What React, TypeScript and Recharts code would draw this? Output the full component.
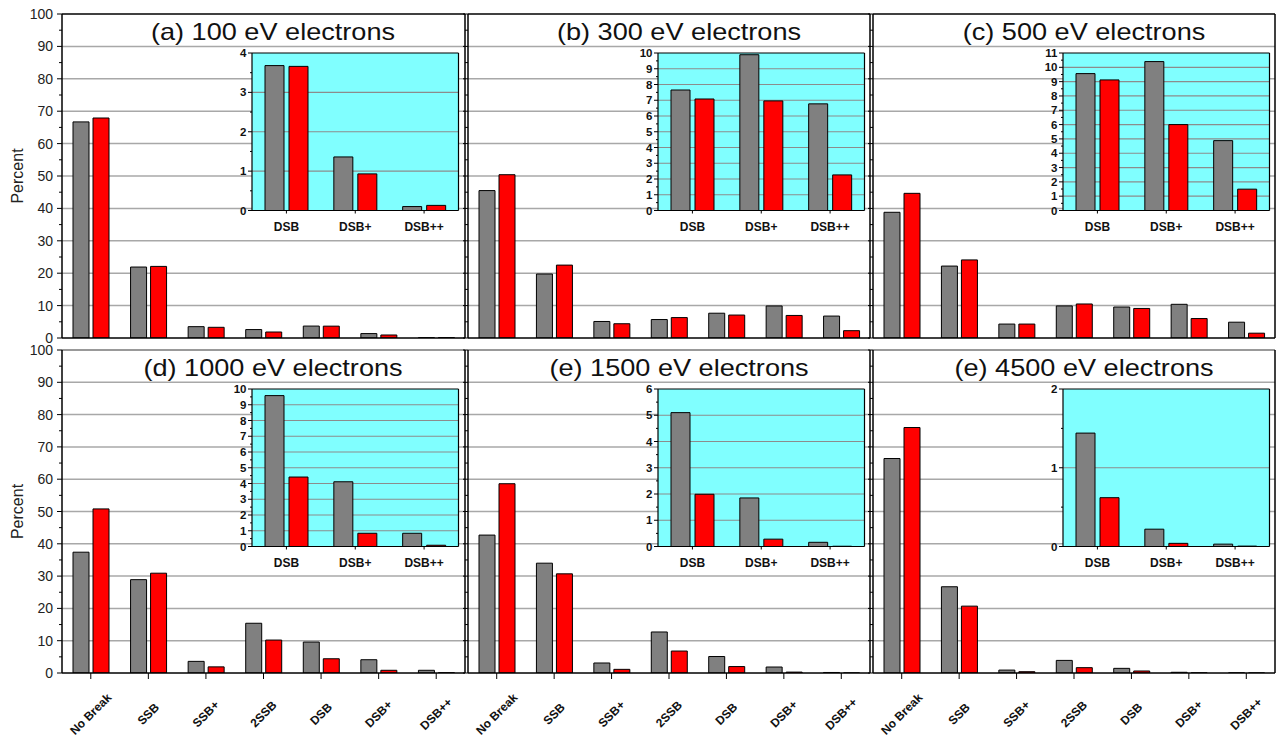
import React from 'react';
import { BarChart, Bar, XAxis, YAxis, CartesianGrid, ReferenceLine } from 'recharts';

const categories = ['No Break', 'SSB', 'SSB+', '2SSB', 'DSB', 'DSB+', 'DSB++'];
const insetCategories = ['DSB', 'DSB+', 'DSB++'];

const panelTitles = [
  '(a) 100 eV electrons',
  '(b) 300 eV electrons',
  '(c) 500 eV electrons',
  '(d) 1000 eV electrons',
  '(e) 1500 eV electrons',
  '(e) 4500 eV electrons',
];

const gray100 = [66.7, 21.9, 3.5, 2.6, 3.68, 1.36, 0.1];
const red100 = [67.9, 22.1, 3.3, 1.85, 3.66, 0.93, 0.13];
const gray300 = [45.5, 19.75, 5.1, 5.7, 7.65, 9.89, 6.77];
const red300 = [50.4, 22.5, 4.4, 6.3, 7.08, 6.96, 2.26];
const gray500 = [38.8, 22.2, 4.3, 9.9, 9.56, 10.4, 4.88];
const red500 = [44.65, 24.1, 4.3, 10.5, 9.12, 6.0, 1.49];
const gray1000 = [37.4, 28.9, 3.6, 15.4, 9.58, 4.11, 0.84];
const red1000 = [50.8, 30.9, 1.9, 10.2, 4.41, 0.84, 0.08];
const gray1500 = [42.7, 34.0, 3.1, 12.7, 5.1, 1.85, 0.16];
const red1500 = [58.6, 30.7, 1.13, 6.8, 1.99, 0.28, 0.01];
const gray4500 = [66.4, 26.7, 0.9, 3.9, 1.44, 0.22, 0.03];
const red4500 = [76.0, 20.7, 0.4, 1.65, 0.62, 0.04, 0.005];

const grays = [gray100, gray300, gray500, gray1000, gray1500, gray4500];
const reds = [red100, red300, red500, red1000, red1500, red4500];

const mainTicks = [0, 5, 10, 15, 20, 25, 30, 35, 40, 45, 50, 55, 60, 65, 70, 75, 80, 85, 90, 95, 100];
const mainGrid = [10, 20, 30, 40, 50, 60, 70, 80, 90];
const insetMax = [4, 10, 11, 10, 6, 2];

const FONT = '"Liberation Sans", Arial, Helvetica, sans-serif';
const GRAY = '#808080';
const RED = '#ff0000';

const COLS = [
  { left: 62, width: 403 },
  { left: 468, width: 402 },
  { left: 873, width: 402 },
];
const ROWS = [
  { top: 14, height: 324 },
  { top: 350, height: 323 },
];

const halfSteps = (max: number) => {
  const out: number[] = [];
  for (let i = 0; i <= max * 2; i++) out.push(i / 2);
  return out;
};
const wholeSteps = (max: number) => {
  const out: number[] = [];
  for (let i = 1; i < max; i++) out.push(i);
  return out;
};

const MainYTick = (props: any) => {
  const { x, y, payload, showLabel } = props;
  const v = payload.value;
  const major = v % 10 === 0;
  return (
    <g>
      <line x1={x - (major ? 5 : 3)} x2={x} y1={y} y2={y} stroke="#000" strokeWidth={1} />
      {showLabel && major && (
        <text x={x - 9} y={y} textAnchor="end" dominantBaseline="central" fontSize={14} fill="#222" fontFamily={FONT}>
          {v}
        </text>
      )}
    </g>
  );
};

const MainXTick = (props: any) => {
  const { x, y, payload } = props;
  const cy = y + 33;
  return (
    <text
      x={x}
      y={cy}
      transform={`rotate(-45, ${x}, ${cy})`}
      textAnchor="middle"
      dominantBaseline="central"
      fontSize={12}
      fontWeight="bold"
      fill="#111"
      fontFamily={FONT}
    >
      {payload.value}
    </text>
  );
};

const InsetYTick = (props: any) => {
  const { x, y, payload } = props;
  const v = payload.value;
  const major = Number.isInteger(v);
  return (
    <g>
      <line x1={x - (major ? 4 : 2)} x2={x} y1={y} y2={y} stroke="#000" strokeWidth={1} />
      {major && (
        <text x={x - 5.5} y={y} textAnchor="end" dominantBaseline="central" fontSize={11.5} fontWeight="bold" fill="#111" fontFamily={FONT}>
          {v}
        </text>
      )}
    </g>
  );
};

const InsetXTick = (props: any) => {
  const { x, y, payload } = props;
  return (
    <text x={x} y={y} dy={15} textAnchor="middle" fontSize={12} fontWeight="bold" fill="#111" fontFamily={FONT}>
      {payload.value}
    </text>
  );
};

function MainPanel({ idx }: { idx: number }) {
  const col = idx % 3;
  const row = Math.floor(idx / 3);
  const { left, width } = COLS[col];
  const { top, height } = ROWS[row];
  const YW = 62;
  const RW = 1;
  const MT = 12;
  const XH = row === 1 ? 66 : 10;
  const data = categories.map((c, i) => ({ name: c, gray: grays[idx][i], red: reds[idx][i] }));
  return (
    <div style={{ position: 'absolute', left: left - YW, top: top - MT }}>
      <BarChart
        width={YW + width + RW}
        height={MT + height + XH}
        data={data}
        margin={{ top: MT, right: 0, bottom: 0, left: 0 }}
        barSize={16}
        barGap={4}
        style={{ overflow: 'visible' }}
      >
        <CartesianGrid vertical={false} horizontalValues={mainGrid} stroke="#a8a8a8" strokeWidth={1.5} />
        <ReferenceLine y={100} stroke={row === 0 ? '#000' : '#777'} strokeWidth={1.5} />
        <XAxis
          dataKey="name"
          height={XH}
          interval={0}
          axisLine={{ stroke: '#000', strokeWidth: 1.5 }}
          tickLine={{ stroke: '#000', strokeWidth: 1 }}
          tickSize={6}
          tickMargin={2}
          tick={row === 1 ? <MainXTick /> : false}
        />
        <YAxis
          width={YW}
          domain={[0, 100]}
          ticks={mainTicks}
          interval={0}
          allowDataOverflow
          tickLine={false}
          tickSize={0}
          tickMargin={0}
          axisLine={{ stroke: '#000', strokeWidth: 1.5 }}
          tick={<MainYTick showLabel={col === 0} />}
        />
        <YAxis
          yAxisId="r"
          orientation="right"
          width={RW}
          domain={[0, 100]}
          tick={false}
          tickLine={false}
          axisLine={{ stroke: '#000', strokeWidth: 1.5 }}
        />
        <Bar dataKey="gray" fill={GRAY} stroke="#000" strokeWidth={1} isAnimationActive={false} />
        <Bar dataKey="red" fill={RED} stroke="#000" strokeWidth={1} isAnimationActive={false} />
      </BarChart>
    </div>
  );
}

function InsetPanel({ idx }: { idx: number }) {
  const col = idx % 3;
  const row = Math.floor(idx / 3);
  const L = COLS[col].left + 190;
  const T = ROWS[row].top + 38.5;
  const W = 206.5;
  const H = 157.5;
  const YW = 30;
  const MT = 8;
  const XH = 30;
  const max = insetMax[idx];
  const data = insetCategories.map((c, i) => ({ name: c, gray: grays[idx][4 + i], red: reds[idx][4 + i] }));
  return (
    <div style={{ position: 'absolute', left: L - YW, top: T - MT }}>
      <BarChart
        width={YW + W + 1}
        height={MT + H + XH}
        data={data}
        margin={{ top: MT, right: 0, bottom: 0, left: 0 }}
        barSize={19}
        barGap={5}
        style={{ overflow: 'visible' }}
      >
        <CartesianGrid
          vertical={false}
          horizontalValues={wholeSteps(max)}
          fill="#80ffff"
          fillOpacity={1}
          stroke="#8c8c8c"
          strokeWidth={1.2}
        />
        <ReferenceLine y={max} stroke="#000" strokeWidth={1.2} />
        <XAxis
          dataKey="name"
          height={XH}
          interval={0}
          axisLine={{ stroke: '#000', strokeWidth: 1.2 }}
          tickLine={{ stroke: '#000' }}
          tickSize={3}
          tickMargin={2}
          tick={<InsetXTick />}
        />
        <YAxis
          width={YW}
          domain={[0, max]}
          ticks={halfSteps(max)}
          interval={0}
          allowDataOverflow
          tickLine={false}
          tickSize={0}
          tickMargin={0}
          axisLine={{ stroke: '#000', strokeWidth: 1.2 }}
          tick={<InsetYTick />}
        />
        <YAxis
          yAxisId="r"
          orientation="right"
          width={1}
          domain={[0, max]}
          tick={false}
          tickLine={false}
          axisLine={{ stroke: '#000', strokeWidth: 1.2 }}
        />
        <Bar dataKey="gray" fill={GRAY} stroke="#000" strokeWidth={1} isAnimationActive={false} />
        <Bar dataKey="red" fill={RED} stroke="#000" strokeWidth={1} isAnimationActive={false} />
      </BarChart>
    </div>
  );
}

export default function App() {
  const idxs = [0, 1, 2, 3, 4, 5];
  return (
    <div
      style={{
        position: 'absolute',
        left: 0,
        top: 0,
        width: 1276,
        height: 738,
        background: '#fff',
        fontFamily: FONT,
        overflow: 'hidden',
      }}
    >
      {idxs.map((i) => (
        <MainPanel key={'m' + i} idx={i} />
      ))}
      {idxs.map((i) => (
        <InsetPanel key={'i' + i} idx={i} />
      ))}
      <svg
        width={1276}
        height={738}
        style={{ position: 'absolute', left: 0, top: 0, pointerEvents: 'none' }}
      >
        {idxs.map((i) => {
          const col = i % 3;
          const row = Math.floor(i / 3);
          const cx = COLS[col].left + 211;
          const cy = ROWS[row].top + 18;
          return (
            <text
              key={'t' + i}
              transform={`translate(${cx},${cy}) scale(1.13,1)`}
              textAnchor="middle"
              dominantBaseline="central"
              fontSize={24}
              fill="#111"
              fontFamily={FONT}
            >
              {panelTitles[i]}
            </text>
          );
        })}
        {[0, 1].map((r) => {
          const cy = ROWS[r].top + ROWS[r].height / 2;
          return (
            <text
              key={'p' + r}
              transform={`translate(17,${cy}) rotate(-90)`}
              textAnchor="middle"
              dominantBaseline="central"
              fontSize={16}
              fill="#222"
              fontFamily={FONT}
            >
              Percent
            </text>
          );
        })}
      </svg>
    </div>
  );
}
